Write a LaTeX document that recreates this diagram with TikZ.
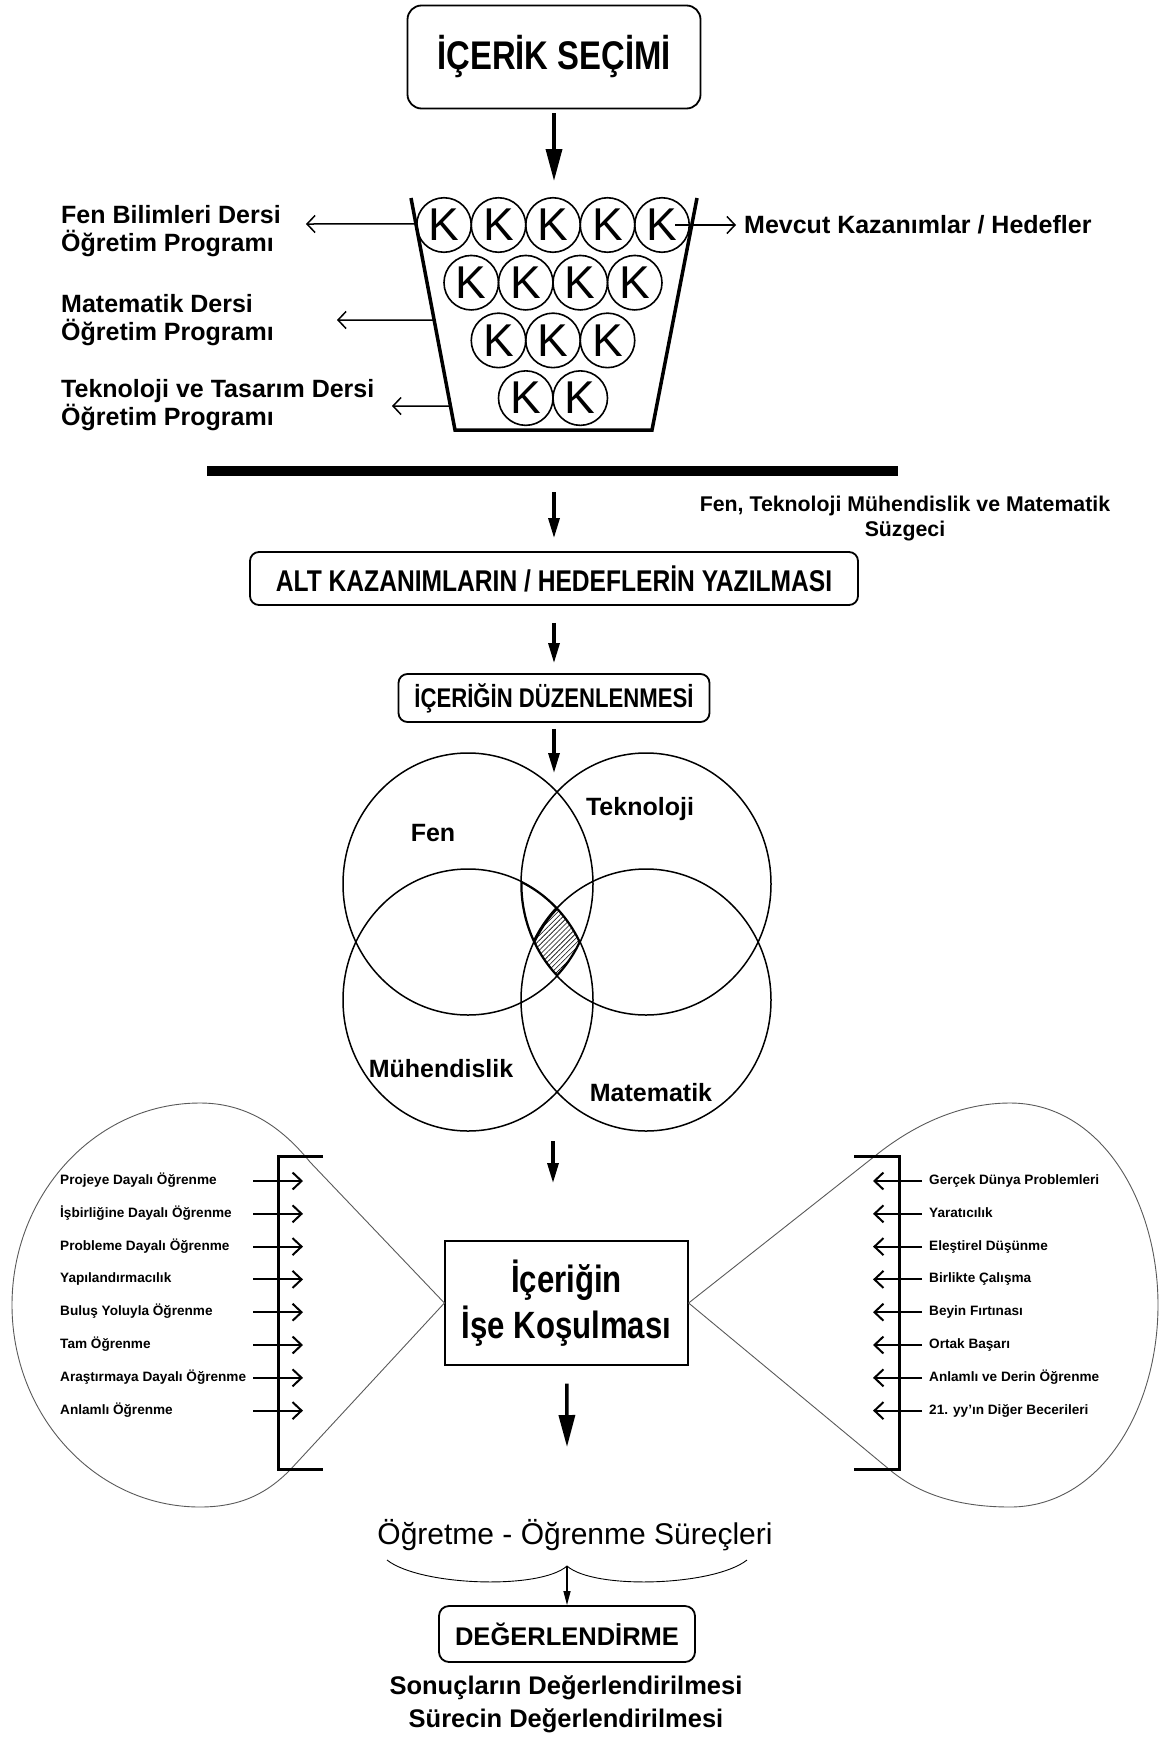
\documentclass[tikz,border=0pt]{standalone}
\usepackage{fontspec}
\setmainfont{Liberation Sans}
\newfontfamily\narrowfont{Liberation Sans}[FakeStretch=0.82]
\usepackage{tikz}
\usetikzlibrary{calc,arrows.meta,positioning,patterns.meta}

\begin{document}
\begin{tikzpicture}[x=1pt, y=-1pt,
  stepbox/.style={draw, line width=1.8pt, rounded corners=9pt, inner sep=0pt, font=\narrowfont\bfseries\fontsize{30}{34}\selectfont},
  kball/.style={circle, draw, line width=1.6pt, minimum size=54.5pt, inner sep=0pt, font=\fontsize{46}{46}\selectfont},
  progtext/.style={anchor=west, align=left, inner sep=0pt, font=\bfseries\fontsize{25}{28}\selectfont},
  venntext/.style={inner sep=0pt, font=\bfseries\fontsize{25}{28}\selectfont},
  itemtext/.style={anchor=west, inner sep=0pt, text height=9.8pt, text depth=2.8pt, font=\bfseries\fontsize{13.6}{16}\selectfont},
  bigarrow/.style={line width=3.2pt, -{Triangle[length=20pt,width=11pt]}},
  thinarrow/.style={line width=1.5pt, -{Straight Barb[length=8pt,width=17pt]}},
  itemarrow/.style={line width=2pt, -{Straight Barb[length=9pt,width=17pt]}},
  bracket/.style={line width=3pt},
  balloon/.style={line width=0.9pt, draw=black!65},
  vennline/.style={line width=1.5pt}
]
\useasboundingbox (0,0) rectangle (1162,1742);

% content selection and the basket of outcomes
\node[stepbox, minimum width=293pt, minimum height=103pt, rounded corners=14pt,
  font=\narrowfont\bfseries\fontsize{40}{44}\selectfont] (secim) at (554,57) {İÇERİK SEÇİMİ};

\coordinate (btl) at (411,198);
\coordinate (bbl) at (455,430);
\coordinate (bbr) at (652,430);
\coordinate (btr) at (697,198);
\coordinate (bucktop) at (554,198);
\draw[line width=3.5pt] (btl) -- (bbl) -- (bbr) -- (btr);
\draw[bigarrow, line width=3.5pt, -{Triangle[length=32pt,width=16pt]}, shorten <=4pt, shorten >=17pt] (secim) -- (bucktop);

\foreach \row/\cnt/\off in {0/5/2, 1/4/1.5, 2/3/1, 3/2/0.5} {
  \foreach \i in {1,...,\cnt} {
    \node[kball] (k\row\i) at ({553+54.5*(\i-1-\off)}, {225+57.7*\row}) {K};
  }
}

\node[progtext] (fenprog) at (61,231) {Fen Bilimleri Dersi\\Öğretim Programı};
\node[progtext] (matprog) at (61,320) {Matematik Dersi\\Öğretim Programı};
\node[progtext] (tekprog) at (61,405) {Teknoloji ve Tasarım Dersi\\Öğretim Programı};
\node[progtext] (mevcut) at (744,225) {Mevcut Kazanımlar / Hedefler};

\coordinate (fenuc) at (306,224);
\coordinate (matuc) at (337,320);
\coordinate (tekuc) at (392,406);
\draw[thinarrow] ($(btl)!0.112!(bbl)$) -- (fenuc);
\draw[thinarrow] ($(btl)!0.526!(bbl)$) -- (matuc);
\draw[thinarrow] ($(btl)!0.897!(bbl)$) -- (tekuc);
\draw[thinarrow] ($(k05.center)+(13,0)$) -- ([xshift=-8pt]mevcut.west);

% filter
\draw[line width=10pt] (207,471) -- (898,471);
\coordinate (bar) at (554,471);
\node[align=center, inner sep=0pt, font=\bfseries\fontsize{21.3}{25}\selectfont] (suzgec) at (905,519)
  {Fen, Teknoloji Mühendislik ve Matematik\\Süzgeci};

\node[stepbox, minimum width=608pt, minimum height=53pt] (alt) at (554,578.5) {ALT KAZANIMLARIN / HEDEFLERİN YAZILMASI};
\node[stepbox, minimum width=311pt, minimum height=48pt, font=\narrowfont\bfseries\fontsize{27}{30}\selectfont] (duzen) at (554,698) {İÇERİĞİN DÜZENLENMESİ};

\draw[bigarrow, shorten <=21pt, shorten >=13pt] (bar) -- (alt);
\draw[bigarrow, shorten <=17pt, shorten >=10pt] (alt) -- (duzen);
\coordinate (venntop) at (554,773);
\draw[bigarrow, shorten <=6pt] (duzen) -- (venntop);

% STEM venn
\draw[vennline] (468,884) ellipse [x radius=125, y radius=131];
\draw[vennline] (646,884) ellipse [x radius=125, y radius=131];
\draw[vennline] (468,1000) ellipse [x radius=125, y radius=131];
\draw[vennline] (646,1000) ellipse [x radius=125, y radius=131];
\begin{scope}
  \clip (468,884) ellipse [x radius=125, y radius=131];
  \clip (646,884) ellipse [x radius=125, y radius=131];
  \clip (468,1000) ellipse [x radius=125, y radius=131];
  \fill[pattern={Lines[angle=45,distance=3.5pt,line width=0.6pt]}] (646,1000) ellipse [x radius=125, y radius=131];
  \draw[line width=3pt] (468,884) ellipse [x radius=125, y radius=131];
  \draw[line width=3pt] (646,884) ellipse [x radius=125, y radius=131];
  \draw[line width=3pt] (468,1000) ellipse [x radius=125, y radius=131];
  \draw[line width=3pt] (646,1000) ellipse [x radius=125, y radius=131];
\end{scope}
\node[venntext] (fenlbl) at (433,833) {Fen};
\node[venntext] (teklbl) at (640,809) {Teknoloji};
\node[venntext] (muhlbl) at (441,1069) {Mühendislik};
\node[venntext] (matlbl) at (651,1093) {Matematik};

\coordinate (vennbot) at (553,1141);
\coordinate (vennarr) at (553,1183);
\draw[bigarrow] (vennbot) -- (vennarr);

% putting the content to work
\node[draw, line width=1.2pt, minimum width=243pt, minimum height=124pt, inner sep=0pt, align=center,
  font=\narrowfont\bfseries\fontsize{38}{46}\selectfont] (isbox) at (566.5,1303) {İçeriğin\\İşe Koşulması};

\draw[balloon] (isbox.west) -- (310,1162) .. controls (280,1125) and (245,1103) .. (200,1103)
  .. controls (95,1103) and (12,1195) .. (12,1305) .. controls (12,1415) and (95,1507) .. (200,1507)
  .. controls (245,1507) and (270,1490) .. (290,1470) -- cycle;
\draw[balloon] (isbox.east) -- (880,1152) .. controls (915,1125) and (960,1103) .. (1010,1103)
  .. controls (1100,1103) and (1158,1200) .. (1158,1305) .. controls (1158,1410) and (1100,1507) .. (1010,1507)
  .. controls (960,1507) and (920,1495) .. (890,1470) -- cycle;

\coordinate (lbr) at (278,1156);
\coordinate (rbr) at (899,1156);
\draw[bracket] (323,1156) -- (lbr) -- (278,1469) -- (323,1469);
\draw[bracket] (854,1156) -- (rbr) -- (899,1469) -- (854,1469);

\foreach \txt [count=\i from 0] in {Projeye Dayalı Öğrenme, İşbirliğine Dayalı Öğrenme,
    Probleme Dayalı Öğrenme, Yapılandırmacılık, Buluş Yoluyla Öğrenme, Tam Öğrenme,
    Araştırmaya Dayalı Öğrenme, Anlamlı Öğrenme} {
  \node[itemtext] (yon\i) at (60,{1181+32.8*\i}) {\txt};
  \draw[itemarrow] ($(yon\i.west -| lbr)+(-25,0)$) -- ($(yon\i.west -| lbr)+(25,0)$);
}
\foreach \txt [count=\i from 0] in {Gerçek Dünya Problemleri, Yaratıcılık, Eleştirel Düşünme,
    Birlikte Çalışma, Beyin Fırtınası, Ortak Başarı, Anlamlı ve Derin Öğrenme,
    21. yy’ın Diğer Becerileri} {
  \node[itemtext] (bec\i) at (929,{1181+32.8*\i}) {\txt};
  \draw[itemarrow] ($(bec\i.west -| rbr)+(23,0)$) -- ($(bec\i.west -| rbr)+(-26,0)$);
}

\coordinate (surecarr) at (567,1447);
\draw[bigarrow, line width=3.5pt, -{Triangle[length=32pt,width=16pt]}, shorten <=18pt] (isbox) -- (surecarr);

% processes and evaluation
\node[inner sep=0pt, font=\fontsize{30}{34}\selectfont] (ogretme) at (575,1535) {Öğretme - Öğrenme Süreçleri};
\coordinate (cusp) at (567,1566);
\draw[line width=0.9pt] (387,1560) .. controls (420,1586) and (540,1590) .. (cusp)
  .. controls (594,1590) and (714,1586) .. (747,1560);
\node[stepbox, minimum width=256pt, minimum height=56pt, rounded corners=10pt,
  font=\bfseries\fontsize{25.5}{28}\selectfont] (deger) at (567,1634) {DEĞERLENDİRME};
\draw[line width=1.3pt, -{Triangle[length=14pt,width=7pt]}] (cusp) -- (deger);
\node[align=center, inner sep=0pt, font=\bfseries\fontsize{25.5}{33}\selectfont] (sonuc) at (566,1704)
  {Sonuçların Değerlendirilmesi\\Sürecin Değerlendirilmesi};
\end{tikzpicture}
\end{document}
